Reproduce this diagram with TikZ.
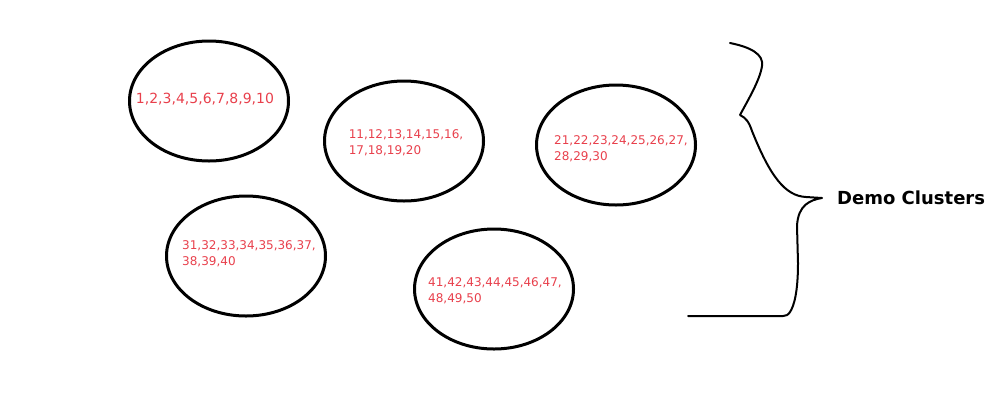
\documentclass[tikz,border=0pt]{standalone}
\usepackage{fontspec}
\setmainfont{DejaVu Sans}
\usepackage{xcolor}
\usetikzlibrary{shapes.geometric,positioning}
\definecolor{numred}{RGB}{232,64,76}

\begin{document}
\begin{tikzpicture}[x=1pt, y=-1pt,
    cluster/.style={ellipse, draw, line width=3pt, minimum width=159pt, minimum height=120pt, inner sep=0pt},
    members/.style={text=numred, font=\fontsize{12}{16}\selectfont, align=left, inner sep=0pt}]
    \useasboundingbox (0,0) rectangle (1000,400);
    \node [cluster] (c1) at (209,101) {};
    \node [cluster] (c2) at (404,141) {};
    \node [cluster] (c3) at (616,145) {};
    \node [cluster] (c4) at (246,256) {};
    \node [cluster] (c5) at (494,289) {};
    \node [members, font=\fontsize{14}{16}\selectfont] (m1) at (205,99) {1,2,3,4,5,6,7,8,9,10};
    \node [members] (m2) at (406,143) {11,12,13,14,15,16,\\17,18,19,20};
    \node [members] (m3) at (621,149) {21,22,23,24,25,26,27,\\28,29,30};
    \node [members] (m4) at (249,254) {31,32,33,34,35,36,37,\\38,39,40};
    \node [members] (m5) at (495,291) {41,42,43,44,45,46,47,\\48,49,50};
    \coordinate (tip) at (822,198);
    \node [right=15pt of tip, inner sep=0pt, font=\fontsize{18}{20}\bfseries] (label) {Demo Clusters};
    \draw [line width=2pt, line cap=round, line join=round]
        (730,43) .. controls (750,47) and (764,54) .. (762,66)
        .. controls (760,80) and (748,100) .. (740,115)
        .. controls (746,118) and (749,122) .. (752,131)
        .. controls (770,176) and (785,196) .. (806,197) -- (tip)
        .. controls (810,200) and (798,205) .. (797,226)
        -- (798,263) .. controls (798,292) and (794,306) .. (790,312)
        .. controls (788,315) and (786,316) .. (783,316) -- (688,316);
\end{tikzpicture}
\end{document}
